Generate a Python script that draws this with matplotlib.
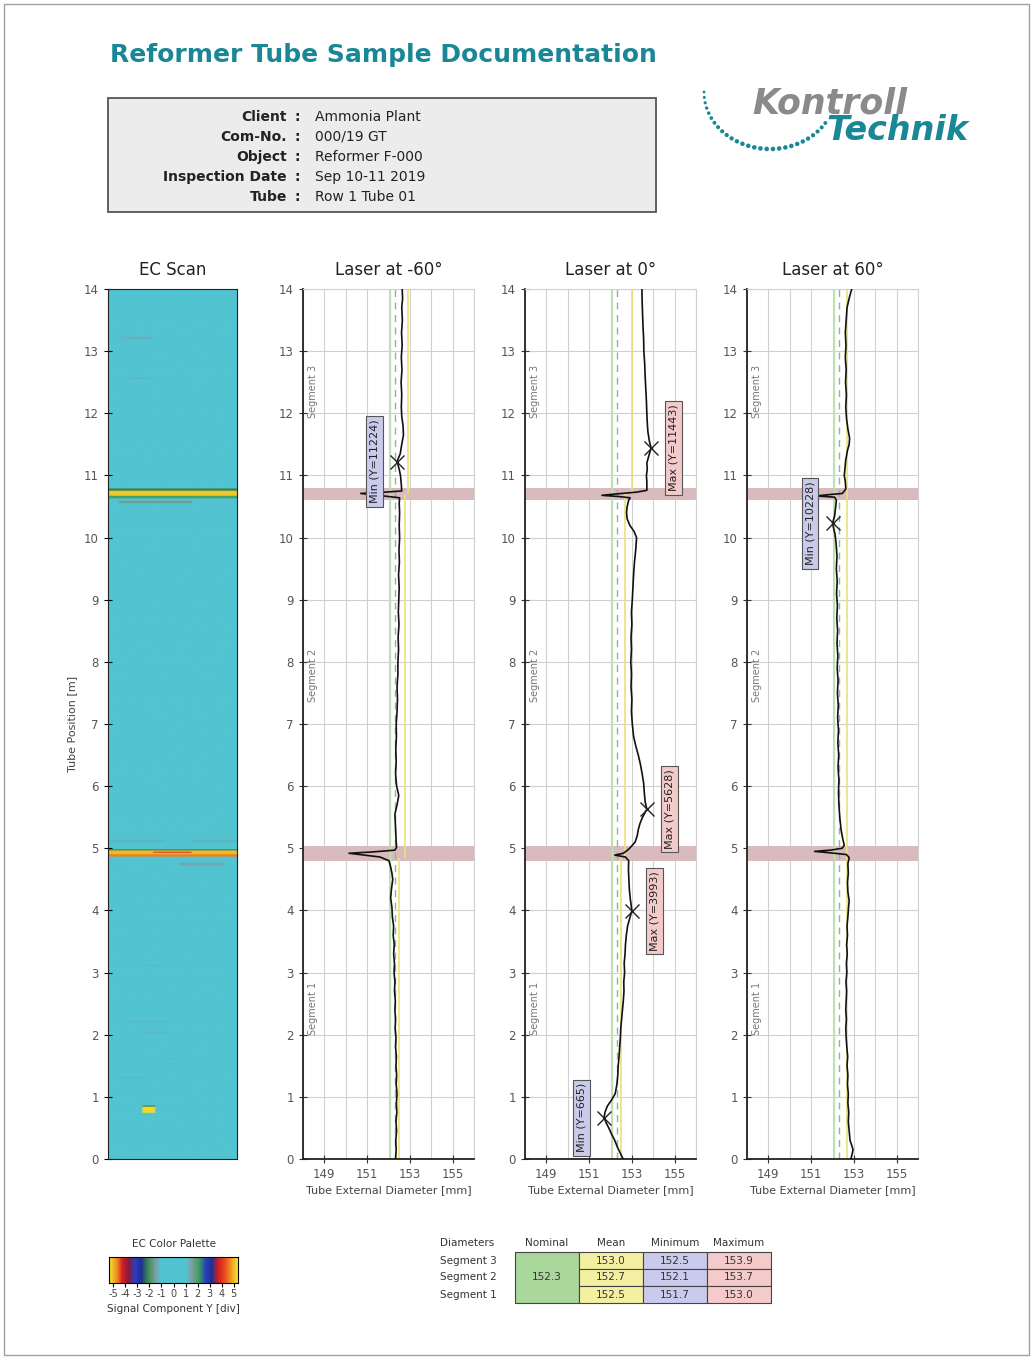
import numpy as np
import matplotlib
matplotlib.use("Agg")
import matplotlib.pyplot as plt
from matplotlib.colors import LinearSegmentedColormap
from matplotlib.patches import Rectangle

plt.rcParams["axes.unicode_minus"] = False

W, H = 1033, 1359

# Kopf / Auftragsdaten
info_labels = ["Client", "Com-No.", "Object", "Inspection Date", "Tube"]
info_values = ["Ammonia Plant", "000/19 GT", "Reformer F-000", "Sep 10-11 2019", "Row 1 Tube 01"]

panel_titles = ["Laser at -60°", "Laser at 0°", "Laser at 60°"]

# Laser-Messungen: (Rohrposition [m], Aussendurchmesser [mm])
laser_m60 = [
    (0.0, 152.33), (0.15, 152.36), (0.3, 152.34), (0.45, 152.38), (0.6, 152.35), (0.75, 152.39),
    (0.9, 152.37), (1.05, 152.40), (1.2, 152.36), (1.35, 152.38), (1.5, 152.35), (1.65, 152.37),
    (1.8, 152.33), (1.95, 152.35), (2.1, 152.31), (2.25, 152.33), (2.4, 152.30), (2.55, 152.32),
    (2.7, 152.28), (2.85, 152.30), (3.0, 152.26), (3.15, 152.28), (3.3, 152.24), (3.45, 152.27),
    (3.6, 152.22), (3.75, 152.24), (3.9, 152.18), (4.05, 152.16), (4.2, 152.10), (4.35, 152.14),
    (4.5, 152.20), (4.6, 152.16), (4.7, 152.10), (4.8, 152.02), (4.86, 151.60), (4.92, 150.15),
    (4.94, 151.20), (4.97, 152.30), (5.02, 152.38), (5.1, 152.36), (5.25, 152.34), (5.4, 152.32),
    (5.55, 152.30), (5.7, 152.40), (5.85, 152.48), (6.0, 152.38), (6.2, 152.33), (6.4, 152.36),
    (6.6, 152.34), (6.8, 152.37), (7.0, 152.36), (7.2, 152.40), (7.4, 152.42), (7.6, 152.40),
    (7.8, 152.44), (8.0, 152.44), (8.2, 152.47), (8.4, 152.45), (8.6, 152.49), (8.8, 152.46),
    (9.0, 152.48), (9.2, 152.50), (9.4, 152.47), (9.6, 152.51), (9.8, 152.49), (10.0, 152.52),
    (10.2, 152.50), (10.4, 152.52), (10.55, 152.50), (10.64, 152.52), (10.68, 151.50), (10.71, 150.70),
    (10.73, 151.80), (10.75, 152.62), (10.85, 152.60), (11.0, 152.56), (11.1, 152.50), (11.224, 152.40),
    (11.35, 152.55), (11.5, 152.62), (11.65, 152.70), (11.8, 152.68), (11.95, 152.62), (12.1, 152.60),
    (12.3, 152.62), (12.5, 152.59), (12.7, 152.63), (12.9, 152.60), (13.1, 152.64), (13.3, 152.61),
    (13.5, 152.65), (13.7, 152.62), (13.85, 152.66), (14.0, 152.64),
]
laser_0 = [
    (0.0, 152.59), (0.1, 152.45), (0.2, 152.31), (0.3, 152.20), (0.4, 152.05), (0.5, 151.92),
    (0.58, 151.80), (0.665, 151.70), (0.75, 151.74), (0.85, 151.85), (0.95, 152.05), (1.05, 152.22),
    (1.2, 152.30), (1.35, 152.34), (1.5, 152.36), (1.65, 152.40), (1.8, 152.43), (1.95, 152.46),
    (2.1, 152.48), (2.25, 152.52), (2.4, 152.56), (2.55, 152.60), (2.7, 152.63), (2.85, 152.62),
    (3.0, 152.66), (3.15, 152.64), (3.3, 152.68), (3.45, 152.70), (3.6, 152.74), (3.75, 152.80),
    (3.85, 152.88), (3.993, 153.00), (4.1, 152.96), (4.2, 152.92), (4.35, 152.88), (4.5, 152.86),
    (4.65, 152.84), (4.8, 152.85), (4.86, 152.70), (4.89, 152.20), (4.92, 152.60), (4.97, 152.80),
    (5.02, 152.95), (5.1, 153.15), (5.2, 153.25), (5.3, 153.30), (5.4, 153.38), (5.5, 153.50),
    (5.628, 153.70), (5.75, 153.62), (5.9, 153.58), (6.05, 153.55), (6.2, 153.48), (6.35, 153.40),
    (6.5, 153.30), (6.65, 153.18), (6.8, 153.08), (7.0, 153.02), (7.2, 152.98), (7.4, 153.00),
    (7.6, 152.96), (7.8, 152.98), (8.0, 152.95), (8.2, 152.98), (8.4, 152.96), (8.6, 153.00),
    (8.8, 152.98), (9.0, 153.02), (9.2, 153.05), (9.4, 153.08), (9.6, 153.12), (9.8, 153.18),
    (10.0, 153.22), (10.1, 153.10), (10.2, 152.90), (10.3, 152.78), (10.4, 152.75), (10.5, 152.78),
    (10.6, 152.85), (10.64, 152.92), (10.66, 152.40), (10.68, 151.60), (10.70, 152.20), (10.73, 153.20),
    (10.76, 153.70), (10.9, 153.70), (11.0, 153.68), (11.1, 153.72), (11.2, 153.70), (11.3, 153.78),
    (11.443, 153.90), (11.55, 153.82), (11.7, 153.75), (11.85, 153.72), (12.0, 153.70), (12.2, 153.68),
    (12.4, 153.65), (12.6, 153.62), (12.8, 153.60), (13.0, 153.56), (13.2, 153.55), (13.4, 153.52),
    (13.6, 153.50), (13.8, 153.48), (14.0, 153.47),
]
laser_p60 = [
    (0.0, 152.86), (0.08, 152.92), (0.15, 152.96), (0.22, 152.90), (0.3, 152.82), (0.45, 152.78),
    (0.6, 152.74), (0.75, 152.76), (0.9, 152.72), (1.05, 152.74), (1.2, 152.70), (1.35, 152.72),
    (1.5, 152.68), (1.65, 152.71), (1.8, 152.67), (1.95, 152.64), (2.1, 152.62), (2.25, 152.65),
    (2.4, 152.62), (2.55, 152.64), (2.7, 152.66), (2.85, 152.63), (3.0, 152.67), (3.15, 152.65),
    (3.3, 152.69), (3.45, 152.66), (3.6, 152.70), (3.75, 152.68), (3.9, 152.72), (4.05, 152.75),
    (4.15, 152.78), (4.3, 152.72), (4.45, 152.70), (4.6, 152.74), (4.75, 152.72), (4.85, 152.78),
    (4.9, 152.65), (4.93, 151.80), (4.95, 151.16), (4.97, 151.90), (5.0, 152.45), (5.05, 152.55),
    (5.15, 152.48), (5.3, 152.40), (5.5, 152.34), (5.7, 152.30), (5.9, 152.28), (6.1, 152.30),
    (6.3, 152.26), (6.5, 152.29), (6.7, 152.25), (6.9, 152.28), (7.1, 152.24), (7.3, 152.27),
    (7.5, 152.23), (7.7, 152.26), (7.9, 152.22), (8.1, 152.25), (8.3, 152.21), (8.5, 152.24),
    (8.7, 152.20), (8.9, 152.23), (9.1, 152.19), (9.3, 152.22), (9.5, 152.18), (9.7, 152.21),
    (9.9, 152.17), (10.05, 152.12), (10.228, 152.00), (10.35, 152.10), (10.5, 152.15), (10.6, 152.18),
    (10.65, 152.10), (10.67, 151.25), (10.69, 151.80), (10.71, 152.46), (10.78, 152.62), (10.9, 152.60),
    (11.0, 152.55), (11.1, 152.58), (11.25, 152.62), (11.4, 152.70), (11.5, 152.78), (11.6, 152.80),
    (11.75, 152.72), (11.9, 152.66), (12.1, 152.62), (12.3, 152.65), (12.5, 152.61), (12.7, 152.64),
    (12.9, 152.60), (13.1, 152.63), (13.3, 152.60), (13.5, 152.64), (13.7, 152.68), (13.85, 152.78),
    (14.0, 152.90),
]
laser_data = [laser_m60, laser_0, laser_p60]

# markierte Extremwerte: (Art, Position [m], Durchmesser [mm])
extremes = [
    [("Min", 11.224, 152.40)],
    [("Max", 11.443, 153.90), ("Max", 5.628, 153.70), ("Max", 3.993, 153.00), ("Min", 0.665, 151.70)],
    [("Min", 10.228, 152.00)],
]

# Segmentgrenzen und Schweissnaht-Zonen
seg_bounds = [0.0, 4.85, 10.7, 14.0]
seg_names = ["Segment 1", "Segment 2", "Segment 3"]
weld_zones = [(4.80, 5.03), (10.61, 10.79)]
nominal = 152.3
lower_ref = 152.05
seg_means = [
    [152.47, 152.75, 152.90],
    [152.5, 152.7, 153.0],
    [152.66, 152.66, 152.70],
]

# Tabelle (Laser 0°)
tab_segments = ["Segment 3", "Segment 2", "Segment 1"]
tab_mean = [153.0, 152.7, 152.5]
tab_min = [152.5, 152.1, 151.7]
tab_max = [153.9, 153.7, 153.0]
tab_header = ["Diameters", "Nominal", "Mean", "Minimum", "Maximum"]

# EC-Scan Anzeigen: (y_von, y_bis, x_von, x_bis, Signal Y [div])
ec_indications = [
    (13.19, 13.22, 0.10, 0.35, 1.15), (12.55, 12.57, 0.15, 0.35, 1.15),
    (10.55, 10.59, 0.08, 0.65, 1.5), (10.63, 10.67, 0.0, 1.0, 1.9),
    (10.67, 10.75, 0.0, 1.0, 4.8), (10.75, 10.79, 0.0, 1.0, -2.0),
    (5.10, 5.13, 0.0, 0.45, 1.3), (5.10, 5.13, 0.65, 1.0, 1.3),
    (4.86, 4.90, 0.0, 1.0, 4.3), (4.90, 4.96, 0.0, 1.0, 4.7),
    (4.92, 4.95, 0.35, 0.65, 3.9), (4.96, 4.99, 0.0, 1.0, -2.0),
    (4.73, 4.76, 0.55, 0.90, 1.3),
    (3.10, 3.12, 0.30, 0.42, 1.15), (2.20, 2.23, 0.15, 0.45, 1.15),
    (2.03, 2.05, 0.25, 0.45, 1.15), (1.60, 1.62, 0.45, 0.52, 1.15),
    (1.30, 1.32, 0.10, 0.30, 1.1),
    (0.74, 0.84, 0.27, 0.36, 4.9), (0.84, 0.87, 0.27, 0.36, -2.0),
]

ec_colors = [
    (0.00, "#f2e530"), (0.06, "#f08a20"), (0.10, "#d42020"), (0.15, "#8a1a3a"),
    (0.20, "#2a3fbf"), (0.25, "#20308f"), (0.30, "#3a8a4a"), (0.36, "#7f9ea4"),
    (0.40, "#52c3d1"), (0.60, "#52c3d1"), (0.64, "#7f9ea4"), (0.70, "#3aa05a"),
    (0.75, "#2a3fbf"), (0.80, "#20308f"), (0.85, "#d42020"), (0.90, "#e84a20"),
    (0.94, "#f08a20"), (1.00, "#f2e530"),
]
ec_cmap = LinearSegmentedColormap.from_list("ec", ec_colors)

teal = "#1a8797"
txt = "#333333"

fig = plt.figure(figsize=(W / 100, H / 100), dpi=100)

# Hintergrund-Achse in Pixelkoordinaten
bg = fig.add_axes([0, 0, 1, 1], zorder=0)
bg.set_xlim(0, W)
bg.set_ylim(H, 0)
bg.axis("off")
bg.add_patch(Rectangle((4, 4), W - 8, H - 8, fill=False, ec="#a0a0a0", lw=1))

bg.text(110, 55, "Reformer Tube Sample Documentation", color=teal, fontsize=18,
        fontweight="bold", va="center", ha="left")

bg.add_patch(Rectangle((108, 98), 548, 114, fc="#ececec", ec="#555555", lw=1.3))
for i, (lab, val) in enumerate(zip(info_labels, info_values)):
    y = 117 + 20 * i
    bg.text(287, y, lab, ha="right", va="center", fontsize=10, fontweight="bold", color="#222")
    bg.text(297, y, ":", ha="center", va="center", fontsize=10, fontweight="bold", color="#222")
    bg.text(315, y, val, ha="left", va="center", fontsize=10, color="#222")

# Logo
t = np.linspace(np.pi, np.radians(327), 28)
bg.scatter(770 + 66 * np.cos(t), 92 - 57 * np.sin(t), s=4 + 7 * (-np.sin(t)), color=teal, lw=0)
bg.text(752, 103, "Kontroll", fontsize=25, fontweight="bold", fontstyle="italic",
        color="#8a8a8a", va="center", ha="left")
bg.text(826, 131, "Technik", fontsize=24, fontweight="bold", fontstyle="italic",
        color=teal, va="center", ha="left")


def fx(px):
    return px / W


def fy(py):
    return 1 - py / H


ax_top, ax_bot = 289, 1159

# EC Scan
ax_ec = fig.add_axes([fx(108), fy(ax_bot), (237 - 108) / W, (ax_bot - ax_top) / H], zorder=2)
n_rows, n_cols = 700, 60
yc = (np.arange(n_rows) + 0.5) * 14.0 / n_rows
xc = (np.arange(n_cols) + 0.5) / n_cols
ec_img = np.zeros((n_rows, n_cols))
for y0, y1, x0, x1, v in ec_indications:
    ec_img[np.ix_((yc >= y0) & (yc < y1), (xc >= x0) & (xc < x1))] = v
ax_ec.imshow(ec_img, origin="lower", extent=[0, 1, 0, 14], aspect="auto", cmap=ec_cmap,
             vmin=-5, vmax=5, interpolation="bilinear")
ax_ec.set_xticks([])
ax_ec.set_yticks(range(0, 15))
ax_ec.set_ylim(0, 14)
ax_ec.tick_params(axis="y", labelsize=8.5, labelcolor="#555", direction="inout", length=6)
ax_ec.set_ylabel("Tube Position [m]", fontsize=8, color="#444", labelpad=5)
ax_ec.set_title("EC Scan", fontsize=12, color="#222", pad=10)
for sp in ax_ec.spines.values():
    sp.set_color("#222")

# Laser-Panels
lefts = [303, 525, 747]
for k in range(3):
    ax = fig.add_axes([fx(lefts[k]), fy(ax_bot), 171 / W, (ax_bot - ax_top) / H], zorder=2)
    ax.set_xlim(148, 156)
    ax.set_ylim(0, 14)
    ax.set_axisbelow(True)
    ax.set_xticks([149, 151, 153, 155])
    ax.set_xticks(range(148, 157), minor=True)
    ax.set_yticks(range(0, 15))
    ax.grid(True, which="both", color="#d0d0d0", lw=0.8)
    ax.tick_params(axis="both", which="major", labelsize=8.5, labelcolor="#555",
                   direction="inout", length=6, color="#333")
    ax.tick_params(axis="x", which="minor", length=0)
    for s in ["top", "right"]:
        ax.spines[s].set_color("#d0d0d0")
        ax.spines[s].set_linewidth(0.8)
    for s in ["left", "bottom"]:
        ax.spines[s].set_color("#222")
        ax.spines[s].set_linewidth(1.3)

    for lo, hi in weld_zones:
        ax.axhspan(lo, hi, color="#d9babd", lw=0, zorder=1.2)

    ax.axvline(lower_ref, color="#bfe3b5", lw=1.0, zorder=1.5)
    ax.axvline(nominal, color="#8fb598", lw=1.0, ls=(0, (5, 4)), zorder=1.6)
    for j in range(3):
        ax.vlines(seg_means[k][j], seg_bounds[j], seg_bounds[j + 1], color="#e9e27a",
                  lw=1.2, zorder=1.6)
        ax.text(148.45, (seg_bounds[j] + seg_bounds[j + 1]) / 2, seg_names[j], rotation=90,
                fontsize=7, color="#777", ha="center", va="center")

    arr = np.array(laser_data[k])
    ax.plot(arr[:, 1], arr[:, 0], color="#111", lw=1.2, zorder=3)

    for kind, p, d in extremes[k]:
        ax.plot(d, p, marker="x", color="#222", ms=10, mew=1.0, zorder=4)
        off = -1.05 if kind == "Min" else 1.05
        fc = "#cacbeb" if kind == "Min" else "#f3caca"
        ax.text(d + off, p, f"{kind} (Y={int(round(p * 1000))})", rotation=90, fontsize=8,
                color="#222", ha="center", va="center", zorder=5,
                bbox=dict(boxstyle="square,pad=0.3", fc=fc, ec="#555", lw=0.8))

    ax.set_title(panel_titles[k], fontsize=12, color="#222", pad=10)
    ax.set_xlabel("Tube External Diameter [mm]", fontsize=8, color="#444", labelpad=3)

# Farbpalette
ax_pal = fig.add_axes([fx(109), fy(1283), 129 / W, 26 / H], zorder=2)
ax_pal.imshow(np.linspace(-5, 5, 400)[None, :], extent=[-5.35, 5.35, 0, 1], aspect="auto",
              cmap=ec_cmap, vmin=-5, vmax=5)
ax_pal.set_yticks([])
ax_pal.set_xticks(range(-5, 6))
ax_pal.tick_params(axis="x", labelsize=7, labelcolor="#444", length=3, pad=1)
ax_pal.set_xlabel("Signal Component Y [div]", fontsize=7.5, color="#333", labelpad=4)
ax_pal.set_title("EC Color Palette", fontsize=7.5, color="#333", pad=7)

# Tabelle
col_x = [437, 515, 579, 643, 707, 771]
row_top, row_h = 1252, 17
hdr_y = 1243
bg.text(col_x[0] + 3, hdr_y, tab_header[0], fontsize=7.5, color=txt, va="center", ha="left")
for c in range(1, 5):
    bg.text((col_x[c] + col_x[c + 1]) / 2, hdr_y, tab_header[c], fontsize=7.5, color=txt,
            va="center", ha="center")
bg.add_patch(Rectangle((col_x[1], row_top), col_x[2] - col_x[1], 3 * row_h, fc="#a9d79c",
                       ec="#444", lw=0.8))
bg.text((col_x[1] + col_x[2]) / 2, row_top + 1.5 * row_h, f"{nominal:.1f}", fontsize=7.5,
        color=txt, ha="center", va="center")
cell_cols = [(tab_mean, "#f4f0a2"), (tab_min, "#cacaec"), (tab_max, "#f4caca")]
for r, name in enumerate(tab_segments):
    yy = row_top + r * row_h
    bg.text(col_x[0] + 3, yy + row_h / 2, name, fontsize=7.5, color=txt, ha="left", va="center")
    for c, (vals, fc) in enumerate(cell_cols):
        x0 = col_x[c + 2]
        bg.add_patch(Rectangle((x0, yy), col_x[c + 3] - x0, row_h, fc=fc, ec="#444", lw=0.8))
        bg.text(x0 + (col_x[c + 3] - x0) / 2, yy + row_h / 2, f"{vals[r]:.1f}", fontsize=7.5,
                color=txt, ha="center", va="center")

fig.savefig("out.png", dpi=100)
